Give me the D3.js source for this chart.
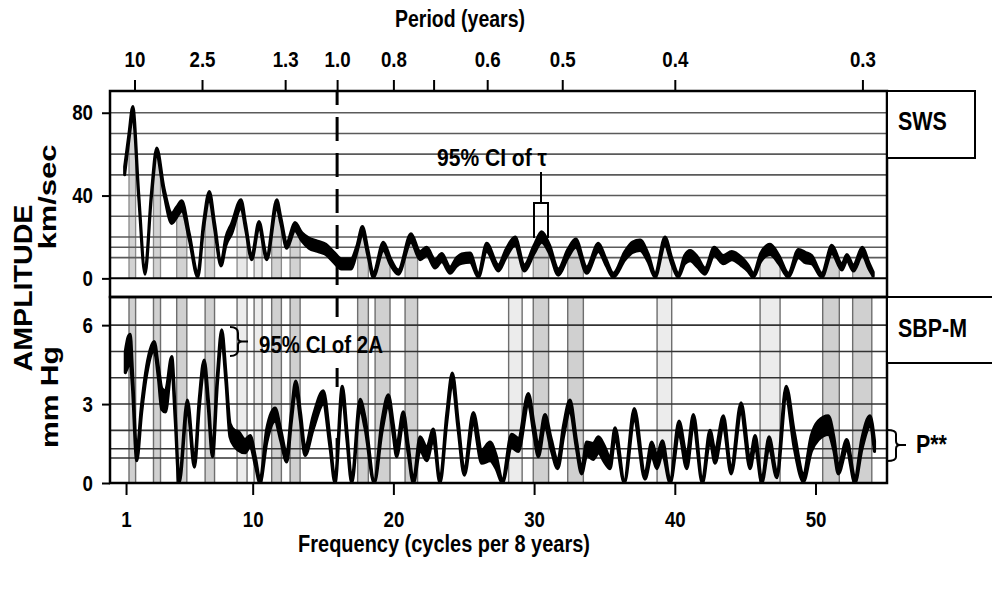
<!DOCTYPE html>
<html><head><meta charset="utf-8">
<script src="https://cdn.jsdelivr.net/npm/d3@7"></script>
<style>
body{margin:0;background:#fff}
text{font-family:"Liberation Sans",Arial,sans-serif;font-weight:bold;fill:#000}
</style>
</head><body><svg id="c" width="992" height="590"></svg>
<script>
// ---------- DATA ----------
const swsFreq  = [0.9,1.2,1.48,1.9,2.35,2.8,3.18,3.7,4.25,4.6,4.96,5.5,6.1,6.5,6.92,7.3,7.75,8.1,8.5,9.17,9.5,9.93,10.45,11.0,11.71,12.0,12.42,13.0,13.5,14.0,14.6,15.2,15.8,16.3,17.0,17.4,17.8,18.2,18.57,19.29,19.8,20.35,21.25,21.9,22.37,22.96,23.44,24.03,24.5,24.86,25.45,26.04,26.63,27.46,28.0,28.65,29.31,30.0,30.54,31.1,31.72,32.4,32.96,33.74,34.57,35.1,35.63,36.46,37.0,37.53,38.1,38.6,39.3,39.8,40.25,40.7,41.09,41.6,42.15,42.8,43.45,44.05,44.76,45.2,45.58,46.1,46.77,47.4,48.07,48.78,49.3,49.73,50.45,51.16,51.87,52.23,52.69,53.33,53.8,54.1];
const swsVal   = [52,68,81,40,3,40,61,42,29,32,35,20,1.5,25,40,25,7,18,24,36,25,10,26,10,36,28,16,25,20,17,15.5,14,10,7,7,14,23,12,1.5,15.5,8,3,19.5,11,13,7,10,4,8,9.5,10,1.5,15,5,12,18,5,14,20,14,3,12,17,4,15,8,1.5,11,15,16,10,1.5,18,8,1.5,9,11,8,3.5,13,9,11,8,5,1.5,10,14,9,1.5,12,10,9,1.5,14,5.5,10,5,13,6,2];
const swsWidth = [4,3,4,2,2,2,4,3,5,5,5,3,2,3,4,3,2,4,5,4,3,2,3,2,4,3,3,4,4,5,5,5,5,5,5,3,4,3,2,4,3,2,4,4,4,4,4,3,4,4.5,4.5,2,4,3,4,4,3,4,5,4,3,4,4,3,4,3,2,4,5,5,4,2,4,3,2,4,5,5,3,4,4,4,4,3,2,4,5,4,2,4,5,4,2,4,3,3,3,4,3,2];

const sbpFreq  = [0.95,1.15,1.3,1.45,1.76,2.1,2.47,3.0,3.3,3.54,3.8,4.25,4.5,4.77,5.36,5.86,6.2,6.55,6.85,7.14,7.5,7.8,8.1,8.39,8.7,8.98,9.46,9.82,10.2,10.52,11.0,11.59,12.0,12.42,12.75,13.06,13.4,13.72,14.3,15.02,15.5,15.85,16.37,16.7,17.04,17.63,17.98,18.64,19.2,19.64,20.0,20.23,20.7,21.05,21.42,21.9,22.37,22.84,23.31,23.8,24.19,24.6,25.04,25.68,26.28,26.87,27.3,27.74,28.4,28.88,29.59,30.0,30.3,30.77,31.2,31.68,32.1,32.55,33.0,33.38,33.74,34.2,34.57,35.0,35.4,35.75,36.41,37.12,37.88,38.36,38.72,39.12,39.67,40.3,40.85,41.32,41.96,42.5,42.86,43.45,44.0,44.71,45.35,45.71,46.18,46.7,47.25,47.91,48.5,49.14,49.7,50.2,50.91,51.3,51.62,52.22,52.8,53.3,53.87,54.19];
const sbpVal   = [4.6,5.0,5.15,4.0,1.0,2.8,4.3,5.2,4.2,3.2,3.1,4.6,2.5,0.05,3.0,0.7,3.0,4.5,3.0,1.1,4.0,5.65,4.0,2.0,1.7,1.6,1.4,1.6,0.8,0.05,1.8,2.6,1.8,0.95,2.5,3.7,2.5,1.2,2.3,3.25,1.5,0.05,3.5,1.8,0.05,3.0,2.3,0.05,2.2,3.15,2.0,1.2,2.5,1.3,0.05,1.5,1.1,1.85,0.05,2.5,4.0,2.2,0.4,2.45,1.0,1.2,0.8,0.05,1.6,1.45,3.2,2.0,1.2,2.4,1.5,0.7,2.0,2.95,1.5,0.45,1.3,1.2,1.45,1.1,0.75,1.9,0.05,2.6,0.25,1.3,0.8,1.35,0.05,2.1,0.8,2.4,0.05,1.8,1.0,2.35,0.45,2.85,0.75,1.6,0.05,1.55,0.3,3.45,1.6,0.2,1.5,2.0,2.2,1.5,0.5,1.45,0.1,1.5,2.35,1.4];
const sbpWidth = [0.8,1.1,1.0,0.6,0.3,0.3,0.3,0.35,0.4,0.8,0.8,0.4,0.25,0.1,0.3,0.2,0.3,0.35,0.3,0.2,0.3,0.35,0.3,0.5,0.6,0.7,0.5,0.4,0.3,0.1,0.5,0.5,0.4,0.3,0.3,0.35,0.3,0.3,0.5,0.5,0.3,0.1,0.35,0.3,0.1,0.35,0.4,0.1,0.4,0.4,0.4,0.4,0.4,0.3,0.1,0.5,0.5,0.4,0.1,0.3,0.35,0.3,0.2,0.45,0.5,0.7,0.5,0.1,0.5,0.5,0.4,0.4,0.4,0.4,0.4,0.3,0.4,0.4,0.3,0.2,0.5,0.6,0.6,0.6,0.4,0.4,0.1,0.45,0.2,0.5,0.5,0.5,0.1,0.5,0.5,0.4,0.1,0.4,0.5,0.4,0.2,0.4,0.4,0.4,0.1,0.4,0.2,0.45,0.6,0.3,0.6,0.7,0.7,0.5,0.3,0.4,0.2,0.4,0.4,0.4];

const bandLo    = [1.21,2.95,4.6,6.62,8.89,10.1,11.35,12.66,17.46,18.7,20.83,28.19,29.94,32.39,38.74,46.06,50.51,52.64];
const bandHi    = [1.68,3.45,5.32,7.29,9.6,10.67,12.04,13.37,18.22,19.76,21.72,29.15,31.03,33.5,39.78,47.48,51.69,54.0];
const bandShade = ["g","g","g","g","l","l","g","g","g","g","g","l","g","g","l","l","g","g"];

const periodTicks  = [10,2.5,1.3,1.0,0.8,0.7,0.6,0.5,0.4,0.3];
const periodLabels = ["10","2.5","1.3","1.0","0.8","","0.6","0.5","0.4","0.3"];
const freqTicks = [1,10,20,30,40,50];
const swsTicks = [0,40,80];
const swsGrid  = [10,15,20,30,40,50,60,70,80];
const sbpTicks = [0,3,6];
const sbpGrid  = [0.95,1.3,2,3,4,5,6];
const yearMark = 16; // frequency of 1-year period

// ---------- LAYOUT ----------
const L = 110, R = 887, T1 = 91, B1 = 297, T2 = 297, B2 = 483;
const svg = d3.select("#c");
const x = d3.scaleLinear().domain([-0.14, 55.08]).range([L, R]);
const yT = d3.scaleLinear().domain([-9, 90.5]).range([B1, T1]);
const yB = d3.scaleLinear().domain([0, 7.07]).range([B2, T2]);

const sws = swsFreq.map((f,i)=>({f, lo: swsVal[i]-swsWidth[i]/2, hi: swsVal[i]+swsWidth[i]/2}));
const sbp = sbpFreq.map((f,i)=>({f, lo: Math.max(0,sbpVal[i]-sbpWidth[i]/2), hi: sbpVal[i]+sbpWidth[i]/2}));
const bands = bandLo.map((a,i)=>({a, b: bandHi[i], s: bandShade[i]}));

function fit(sel, w){ const n = sel.node().getComputedTextLength(); return w/n; }
function htext(str, px, py, size, w, anchor){
  const t = svg.append("text").text(str).attr("font-size", size).attr("text-anchor", anchor||"start");
  const s = fit(t, w);
  t.attr("transform", `translate(${px},${py}) scale(${s},1)`);
  return t;
}
function vtext(str, px, py, size, w){
  const t = svg.append("text").text(str).attr("font-size", size).attr("text-anchor","middle");
  const s = fit(t, w);
  t.attr("transform", `translate(${px},${py}) rotate(-90) scale(${s},1)`);
}

// ---------- TOP PANEL (SWS) ----------
const defs = svg.append("defs");
defs.append("clipPath").attr("id","under").append("path")
  .attr("d", d3.area().x(d=>x(d.f)).y0(yT(0)).y1(d=>yT(Math.max(0,d.lo))).curve(d3.curveMonotoneX)(sws));
defs.append("clipPath").attr("id","plotB").append("rect").attr("x",L).attr("y",T2).attr("width",R-L).attr("height",B2-T2);
defs.append("clipPath").attr("id","plotT").append("rect").attr("x",L).attr("y",T1).attr("width",R-L).attr("height",B1-T1);

const gTop = svg.append("g");
gTop.append("g").attr("clip-path","url(#under)").selectAll("rect").data(bands).join("rect")
  .attr("x", d=>x(d.a)).attr("width", d=>x(d.b)-x(d.a))
  .attr("y", yT(90)).attr("height", yT(0)-yT(90))
  .attr("fill", d=>d.s==="g" ? "#d2d2d2" : "#e8e8e8")
  .attr("stroke", "#8a8a8a").attr("stroke-width", 1.3);

gTop.selectAll("line.grid").data(swsGrid).join("line").attr("class","grid")
  .attr("x1", L).attr("x2", R).attr("y1", d=>yT(d)).attr("y2", d=>yT(d))
  .attr("stroke", "#5a5a5a").attr("stroke-width", 1.6);
gTop.append("line").attr("x1",L).attr("x2",R).attr("y1",yT(0)).attr("y2",yT(0))
  .attr("stroke","#000").attr("stroke-width",2);

gTop.append("line").attr("x1", x(yearMark)).attr("x2", x(yearMark)).attr("y1", T1).attr("y2", B1)
  .attr("stroke","#000").attr("stroke-width",3).attr("stroke-dasharray","24,12").attr("stroke-dashoffset",10);

gTop.append("path").attr("clip-path","url(#plotT)").attr("fill","#000").attr("stroke","#000")
  .attr("stroke-width",3).attr("stroke-linejoin","round")
  .attr("d", d3.area().x(d=>x(d.f)).y0(d=>yT(d.lo)).y1(d=>yT(d.hi)).curve(d3.curveMonotoneX)(sws));

// ---------- BOTTOM PANEL (SBP-M) ----------
const gBot = svg.append("g");
gBot.selectAll("rect").data(bands).join("rect")
  .attr("x", d=>x(d.a)).attr("width", d=>x(d.b)-x(d.a))
  .attr("y", T2).attr("height", B2-T2)
  .attr("fill", d=>d.s==="g" ? "#d0d0d0" : "#ececec")
  .attr("stroke", "#6e6e6e").attr("stroke-width", 1.4);
gBot.selectAll("line.grid").data(sbpGrid).join("line").attr("class","grid")
  .attr("x1", L).attr("x2", R).attr("y1", d=>yB(d)).attr("y2", d=>yB(d))
  .attr("stroke", "#333").attr("stroke-width", 1.6);
gBot.append("line").attr("x1", x(yearMark)).attr("x2", x(yearMark)).attr("y1", T2+1).attr("y2", B2)
  .attr("stroke","#000").attr("stroke-width",3).attr("stroke-dasharray","19,51");
gBot.append("path").attr("clip-path","url(#plotB)").attr("fill","#000").attr("stroke","#000")
  .attr("stroke-width",3.2).attr("stroke-linejoin","round")
  .attr("d", d3.area().x(d=>x(d.f)).y0(d=>yB(d.lo)).y1(d=>yB(d.hi)).curve(d3.curveMonotoneX)(sbp));

// ---------- FRAMES & LABEL BOXES ----------
svg.append("rect").attr("x",L).attr("y",T1).attr("width",R-L).attr("height",B1-T1)
  .attr("fill","none").attr("stroke","#000").attr("stroke-width",2.5);
svg.append("rect").attr("x",L).attr("y",T2).attr("width",R-L).attr("height",B2-T2)
  .attr("fill","none").attr("stroke","#000").attr("stroke-width",2.5);
svg.append("rect").attr("x",R).attr("y",T1).attr("width",88).attr("height",67)
  .attr("fill","#fff").attr("stroke","#000").attr("stroke-width",2);
svg.append("rect").attr("x",R).attr("y",T2).attr("width",110).attr("height",66)
  .attr("fill","#fff").attr("stroke","#000").attr("stroke-width",2);

// ---------- AXES ----------
function styleAxis(g, sx){
  g.select(".domain").remove();
  g.selectAll(".tick line").attr("stroke","#000").attr("stroke-width",2);
  g.selectAll(".tick text").attr("font-size",22).attr("font-family",null).attr("font-weight",null)
    .attr("transform",`scale(${sx},1)`);
}
const axB = svg.append("g").attr("transform",`translate(0,${B2})`)
  .call(d3.axisBottom(x).tickValues(freqTicks).tickSize(12).tickPadding(16));
styleAxis(axB, 0.85);
const axT = svg.append("g").attr("transform",`translate(0,${T1})`)
  .call(d3.axisTop(x).tickValues(periodTicks.map(p=>16/p)).tickFormat((d,i)=>periodLabels[i]).tickSize(11).tickPadding(13));
styleAxis(axT, 0.85);
const axL1 = svg.append("g").attr("transform",`translate(${L},0)`)
  .call(d3.axisLeft(yT).tickValues(swsTicks).tickFormat(d3.format("d")).tickSize(8).tickPadding(12));
styleAxis(axL1, 0.85);
const axL2 = svg.append("g").attr("transform",`translate(${L},0)`)
  .call(d3.axisLeft(yB).tickValues(sbpTicks).tickFormat(d3.format("d")).tickSize(8).tickPadding(12));
styleAxis(axL2, 0.85);

// ---------- TEXT ----------
htext("Period (years)", 460, 27, 24, 130, "middle");
htext("Frequency (cycles per 8 years)", 444, 552, 24, 292, "middle");
vtext("AMPLITUDE", 32, 288, 26, 167);
vtext("km/sec", 56, 197, 23, 105);
vtext("mm Hg", 58, 397, 23, 102);
htext("SWS", 898, 130, 25, 49);
htext("SBP-M", 898, 337, 25, 69);
htext("P**", 916, 453, 25, 31);
htext("95% CI of  \u03c4", 437, 166, 24, 110);
htext("95% CI of  2A", 259, 353, 24, 124);

// annotations
svg.append("path").attr("fill","none").attr("stroke","#000").attr("stroke-width",2)
  .attr("d","M541,172 V203 M534,238 V203 H548 V238");
svg.append("path").attr("fill","none").attr("stroke","#000").attr("stroke-width",2)
  .attr("d","M230,327 Q238,327 238,333 V338 Q238,341.5 242,341.5 H248 M242,341.5 Q238,341.5 238,345 V350 Q238,356 230,356");
svg.append("path").attr("fill","none").attr("stroke","#000").attr("stroke-width",2)
  .attr("d","M887,430 Q896,430 896,434 V441 Q896,445 900,445 H906 M900,445 Q896,445 896,449 V457 Q896,461 887,461");
</script>
</body></html>
